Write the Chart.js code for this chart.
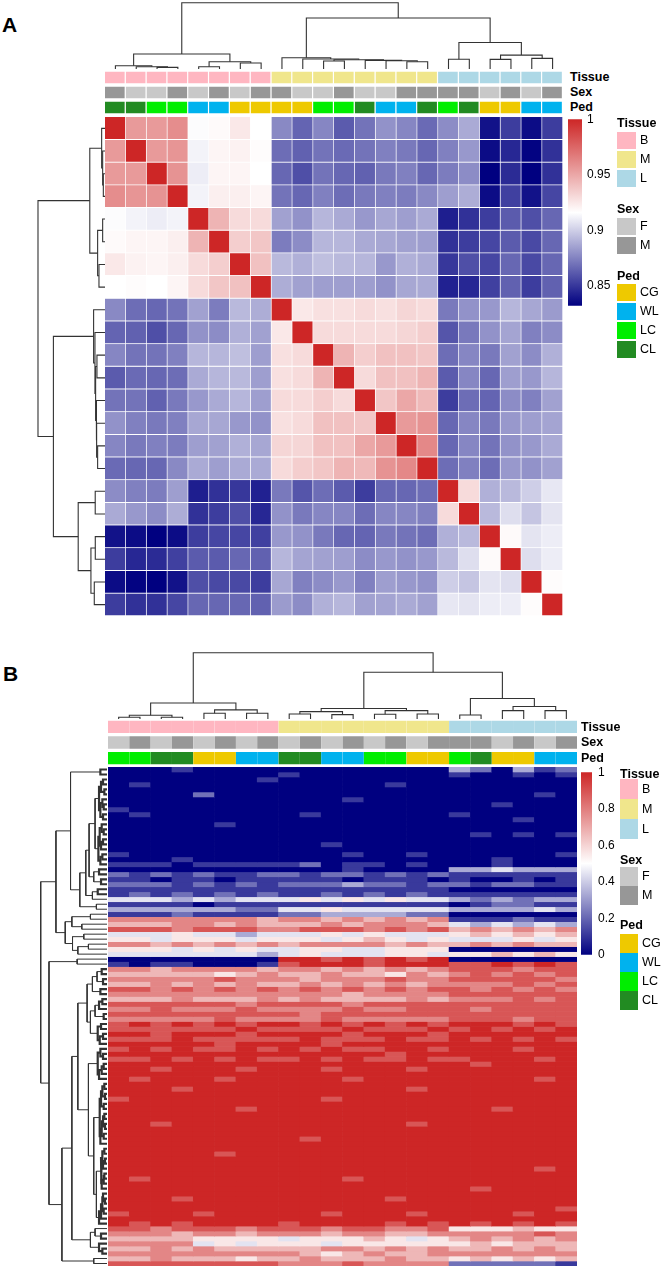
<!DOCTYPE html>
<html>
<head>
<meta charset="utf-8">
<script src="https://cdn.jsdelivr.net/npm/chart.js@4.4.0/dist/chart.umd.min.js"></script>
<style>
  body { margin: 0; background: #fff; }
  #page { position: relative; width: 664px; height: 1269px; overflow: hidden; background: #fff;
          font-family: Arial, "Liberation Sans", Helvetica, sans-serif; color: #000; }
  #page canvas, #page .lab, #page .sw { position: absolute; }
  .lab { white-space: nowrap; }
</style>
</head>
<body>
<div id="page"></div>
<script>
// ---------- data ----------
const tissueColors = { B: "#FFB6C1", M: "#F0E68C", L: "#ADD8E6" };
const sexColors = { F: "#C8C8C8", M: "#979797" };
const pedColors = { CG: "#EEC900", WL: "#00B2EE", LC: "#00EE00", CL: "#228B22" };

// panel A columns (same order for rows)
const tissueA = ["B","B","B","B","B","B","B","B","M","M","M","M","M","M","M","M","L","L","L","L","L","L"];
const sexA = ["M","F","F","M","F","M","F","M","M","F","F","M","F","F","M","M","M","M","F","M","F","M"];
const pedA = ["CL","CL","LC","LC","WL","WL","CG","CG","CG","CG","LC","LC","CL","WL","WL","CL","LC","CL","CG","CG","WL","WL"];

// correlation, in thousandths
const corA = [
  [1000,955,955,960,915,918,925,916, 877,865,876,862,870,880,876,867, 878,888,838,852,836,852],
  [955,1000,955,957,912,920,921,917, 868,864,870,867,870,874,872,866, 874,882,836,845,833,848],
  [955,955,1000,958,910,920,920,916, 866,858,870,866,864,872,874,866, 873,878,831,846,830,848],
  [960,957,958,1000,912,922,922,920, 870,866,874,868,872,874,873,877, 884,889,836,853,838,855],
  [915,912,910,912,1000,945,930,930, 885,880,892,888,882,887,884,888, 842,848,852,862,858,866],
  [918,920,920,922,945,1000,935,938, 873,878,892,892,888,887,885,884, 848,852,855,862,856,866],
  [925,921,920,922,930,935,1000,940, 893,890,895,893,892,882,890,888, 850,858,855,866,856,866],
  [916,917,916,920,930,938,940,1000, 889,885,884,884,884,880,887,888, 843,845,853,864,852,864],
  [877,868,866,870,885,873,893,889, 1000,925,928,928,930,928,932,930, 872,880,882,892,887,883],
  [865,864,858,866,880,878,890,885, 925,1000,930,930,930,930,932,935, 860,872,880,886,874,878],
  [876,870,870,874,892,892,895,884, 928,930,1000,945,935,940,940,938, 868,876,872,885,878,890],
  [862,867,866,868,888,892,893,884, 928,930,945,1000,930,940,940,945, 862,876,866,884,882,892],
  [870,870,864,872,882,888,892,884, 930,930,935,930,1000,938,950,943, 852,868,865,878,874,885],
  [880,874,872,874,887,887,882,880, 928,930,940,940,938,1000,955,958, 866,876,872,882,884,886],
  [876,872,874,873,884,885,890,887, 932,932,940,940,950,955,1000,962, 866,876,870,880,882,888],
  [867,866,866,877,888,884,888,888, 930,935,938,945,943,958,962,1000, 868,874,868,882,880,885],
  [878,874,873,884,842,848,850,843, 872,860,868,862,852,866,866,868, 1000,930,890,893,900,908],
  [888,882,878,889,848,852,858,845, 880,872,876,876,868,876,876,874, 930,1000,893,905,897,907],
  [838,836,831,836,852,855,855,853, 882,880,872,866,865,872,870,868, 890,893,1000,918,907,910],
  [852,845,846,853,862,862,866,864, 892,886,885,884,878,882,880,882, 893,905,918,1000,905,910],
  [836,833,830,838,858,856,856,852, 887,874,878,882,874,884,882,880, 900,897,907,905,1000,917],
  [852,848,848,855,866,866,866,864, 883,878,890,892,885,886,888,885, 908,907,910,910,917,1000]
];
const rangeA = [0.832, 1];
const ticksA = [0.85, 0.9, 0.95, 1];

// merge height between neighbouring leaves (dendrogram, panel A, rows = columns)
const linkA = [5, 3.5, 2.5, 22.7, 3.5, 11, 9, 100, 17, 15, 12, 14, 13, 12.5, 11, 77, 14.6, 40, 14.5, 21, 16];

// panel B columns
const tissueB = ["B","B","B","B","B","B","B","B","M","M","M","M","M","M","M","M","L","L","L","L","L","L"];
const sexB = ["F","M","F","M","F","M","F","M","F","M","F","M","F","M","F","M","M","M","F","M","F","M"];
const pedB = ["LC","LC","CL","CL","CG","CG","WL","WL","CL","CL","WL","WL","LC","LC","CG","CG","LC","CL","CG","CG","WL","WL"];
const colLinkB = [4, 7, 4, 25.3, 10, 15, 10, 100, 9, 12.4, 8, 17, 8.5, 14, 9, 71, 7.4, 32, 14, 20, 14];

// scaled expression per gene block, digit d = d/9 ; groups B | M | L
const exprB = [
  "00010000 00000000 320312",
  "00000000 10000000 100101",
  "00000001 00000000 000000",
  "01000000 00000100 000000",
  "00000000 00000000 000000",
  "00002000 00000000 000010",
  "00000000 00010000 000000",
  "00000000 00000000 001000",
  "10000000 00000000 000000",
  "01000000 01000000 100000",
  "00000000 00000000 000100",
  "00000100 00000000 000000",
  "00000000 00000000 000000",
  "00000000 00000000 010101",
  "00000000 00000000 000000",
  "00000000 00100000 000000",
  "00000000 00000000 000000",
  "10000000 00010010 000001",
  "00010000 00000000 001000",
  "11101111 12011010 001000",
  "00000000 00010000 334333",
  "21212112 21221212 111111",
  "11011011 11101110 100101",
  "22212121 22232212 212211",
  "11111111 11111111 000000",
  "12121212 11212121 111111",
  "44434344 45454544 323233",
  "11110111 11111111 012211",
  "33333322 44544444 333343",
  "11121111 22333322 000000",
  "77777776 77676767 111211",
  "66677676 66767776 434343",
  "88878887 78887878 676767",
  "44454434 44545444 565656",
  "55455545 55456545 444545",
  "77676767 67777676 676766",
  "55545454 45544555 000000",
  "44444443 45444554 556565",
  "00000000 99898989 000000",
  "10110001 89998999 889898",
  "77677776 77676767 888788",
  "66666567 66766576 787878",
  "77777877 76777877 888887",
  "66767676 67676767 777878",
  "88787878 78787878 878787",
  "77777777 77767777 888888",
  "66676667 67666676 777878",
  "88888878 88878888 888888",
  "77877787 77787788 878888",
  "88888888 87888888 888888",
  "77777877 77877777 888788",
  "89898989 98989898 999898",
  "88888898 88898889 898989",
  "99899989 99989998 999999",
  "88898888 89888988 989898",
  "99999899 99899999 999999",
  "89898898 98988998 999899",
  "99999999 99999899 999999",
  "88989898 89898898 899989",
  "99999999 99999999 989999",
  "99899989 99899989 999999",
  "99999999 99999999 999999",
  "98999899 99989999 999989",
  "99999999 99999999 999999",
  "99989999 99999989 999999",
  "99999999 99999999 999999",
  "89999999 99899999 999999",
  "99999999 99999999 999999",
  "99999989 99999999 998999",
  "99999999 99999999 999999",
  "99999999 99999999 999999",
  "99899999 99999989 999999",
  "99999999 99999999 999999",
  "99999999 99999999 999999",
  "99999999 98999999 999999",
  "99999999 99999999 999999",
  "99999999 99999999 999999",
  "99999899 99999999 999999",
  "99999999 99999999 999999",
  "99999999 99999999 999999",
  "99999999 99999999 999989",
  "99999999 99999999 999999",
  "98999999 99989999 999999",
  "99999999 99999999 999999",
  "99999999 99999999 989999",
  "99999999 99999999 999999",
  "99989999 99999899 999999",
  "99999999 99999999 999999",
  "99999999 99999999 999998",
  "89998999 99899989 999899",
  "99999999 99999999 999999",
  "98989999 89999898 989898",
  "88788878 88788778 555655",
  "77767767 77677667 777787",
  "66665555 45556545 676767",
  "77774545 55455555 565666",
  "66767666 66776767 667676",
  "77777777 76567667 777777",
  "66766656 67666766 565656",
  "88888888 77787777 222221"
];
const rowLinkB = [
  10, 55,
  6, 9, 4, 12, 7, 5, 10, 6,
  18,
  8, 5, 11, 6, 9, 13, 7, 10,
  27,
  12, 20, 9,
  32,
  14, 22,
  41,
  16,
  77,
  25, 53, 38,
  63,
  35, 52, 28, 44,
  100,
  45,
  87.5,
  8, 15, 6, 22, 10, 30, 7, 12, 18, 5, 25, 9, 14, 6, 11,
  44,
  10, 6, 14, 5, 8, 12, 28, 4, 7, 3, 9, 5, 11, 4, 6, 3, 8, 5, 10, 20, 4, 7, 3, 6, 9, 4, 5, 8, 16, 6, 3, 7, 5, 9, 12,
  53,
  18, 9, 25, 12, 7,
  68,
  20
];
const rangeB = [0, 1];
const ticksB = [0, 0.2, 0.4, 0.6, 0.8, 1];

// ---------- helpers ----------
const FONT = 'Arial, "Liberation Sans", Helvetica, sans-serif';
const NAVY = [0, 0, 128], WHITE = [255, 255, 255], FIRE = [205, 38, 38];
const page = document.getElementById("page");

const base = () => ({
  responsive: false,
  animation: false,
  events: [],
  layout: { padding: 0 },
  plugins: { legend: { display: false }, tooltip: { enabled: false } }
});

function rampColor(v, lo, hi) {
  let t = (v - lo) / (hi - lo);
  t = Math.max(0, Math.min(1, t));
  const a = t < 0.5 ? NAVY : WHITE, b = t < 0.5 ? WHITE : FIRE;
  const u = t < 0.5 ? t * 2 : (t - 0.5) * 2;
  const c = a.map((x, i) => Math.round(x + (b[i] - x) * u));
  return "rgb(" + c.join(",") + ")";
}

function addCanvas(left, top, w, h) {
  const c = document.createElement("canvas");
  c.width = w; c.height = h;
  c.style.left = left + "px"; c.style.top = top + "px";
  c.style.width = w + "px"; c.style.height = h + "px";
  page.appendChild(c);
  return c;
}

function label(str, x, cy, size, bold) {
  const d = document.createElement("div");
  d.className = "lab";
  d.textContent = str;
  d.style.left = x + "px";
  d.style.top = (cy - size * 0.5) + "px";
  d.style.fontSize = size + "px";
  d.style.lineHeight = size + "px";
  d.style.fontWeight = bold ? "bold" : "normal";
  page.appendChild(d);
}

function swatch(x, y, w, h, color) {
  const d = document.createElement("div");
  d.className = "sw";
  d.style.cssText = "left:" + x + "px;top:" + y + "px;width:" + w + "px;height:" + h + "px;background:" + color;
  page.appendChild(d);
}

// grid of cells: one stacked bar per column, one dataset per row
function drawCells(canvas, colors, border) {
  new Chart(canvas, {
    type: "bar",
    data: {
      labels: colors[0].map((_, i) => i),
      datasets: colors.map(row => ({
        data: row.map(() => 1),
        backgroundColor: row,
        borderColor: "#ffffff",
        borderWidth: border,
        borderSkipped: false,
        barPercentage: 1,
        categoryPercentage: 1
      }))
    },
    options: Object.assign(base(), {
      scales: {
        x: { display: false, stacked: true },
        y: { display: false, stacked: true, reverse: true, min: 0, max: colors.length }
      }
    })
  });
}

// neighbour merge heights -> list of U shaped links [leafPos, height]
function dendroLinks(heights) {
  const links = [];
  function build(lo, hi) {
    if (lo === hi) return { pos: lo, h: 0 };
    let k = lo;
    for (let i = lo; i < hi; i++) if (heights[i] > heights[k]) k = i;
    const a = build(lo, k), b = build(k + 1, hi), h = heights[k];
    links.push([[a.pos, a.h], [a.pos, h], [b.pos, h], [b.pos, b.h]]);
    return { pos: (a.pos + b.pos) / 2, h: h };
  }
  build(0, heights.length);
  return links;
}

// width: line width, or [thin, thick, cut] to thicken the low links
function drawDendro(canvas, heights, side, hMax, width) {
  const n = heights.length + 1;
  const top = side === "top";
  const widthOf = h => Array.isArray(width) ? (h < width[2] ? width[1] : width[0]) : width;
  const datasets = dendroLinks(heights).map(l => ({
    data: l.map(([p, h]) => top ? { x: p, y: h } : { x: h, y: p }),
    showLine: true,
    borderColor: "#333333",
    borderWidth: widthOf(l[1][1]),
    pointRadius: 0,
    tension: 0,
    fill: false
  }));
  const leafAxis = { display: false, type: "linear", min: -0.5, max: n - 0.5, reverse: !top };
  const hAxis = { display: false, type: "linear", min: 0, max: hMax, reverse: !top };
  new Chart(canvas, {
    type: "scatter",
    data: { datasets },
    options: Object.assign(base(), { scales: top ? { x: leafAxis, y: hAxis } : { x: hAxis, y: leafAxis } })
  });
}

function drawColorbar(canvas, range, ticks, axisW, pad, gap) {
  const [lo, hi] = range;
  new Chart(canvas, {
    type: "bar",
    data: {
      labels: [""],
      datasets: [{
        data: [[lo, hi]],
        borderWidth: 0,
        barPercentage: 1,
        categoryPercentage: 1,
        backgroundColor: ctx => {
          const ch = ctx.chart;
          if (!ch.chartArea) return "#fff";
          const y = ch.scales.y;
          const g = ch.ctx.createLinearGradient(0, y.getPixelForValue(lo), 0, y.getPixelForValue(hi));
          g.addColorStop(0, rampColor(lo, lo, hi));
          g.addColorStop(0.5, rampColor((lo + hi) / 2, lo, hi));
          g.addColorStop(1, rampColor(hi, lo, hi));
          return g;
        }
      }]
    },
    options: Object.assign(base(), {
      layout: { padding: { top: pad, bottom: pad, left: 0, right: 0 } },
      scales: {
        x: { display: false },
        y: {
          position: "right", min: lo, max: hi,
          grid: { display: false, drawTicks: false },
          border: { display: false },
          afterBuildTicks: s => { s.ticks = ticks.map(v => ({ value: v })); },
          afterFit: s => { s.width = axisW; },
          ticks: { padding: gap, color: "#000", font: { family: FONT, size: 12 }, callback: v => String(v) }
        }
      }
    })
  });
}

function legend(x, labelX, items, sw, boldSize, textSize) {
  items.forEach(g => {
    label(g.title, x, g.cy, boldSize, true);
    g.levels.forEach((lv, i) => {
      const y = g.y0 + i * g.step;
      swatch(x, y, sw, g.h, g.colors[lv]);
      label(lv, labelX, y + g.h / 2, textSize, false);
    });
  });
}

// ---------- panel A ----------
label("A", 2, 24.5, 21, true);

drawDendro(addCanvas(105, 0, 458, 69), linkA, "top", 104.1, 1.1);
drawDendro(addCanvas(0, 117, 105, 499), linkA, "left", 156.7, 1.1);

drawCells(addCanvas(105, 70, 458, 45), [
  tissueA.map(k => tissueColors[k]),
  sexA.map(k => sexColors[k]),
  pedA.map(k => pedColors[k])
], { top: 2, bottom: 2, left: 0, right: 1.5 });
label("Tissue", 570, 77.5, 12.5, true);
label("Sex", 570, 92.5, 12.5, true);
label("Ped", 570, 107.5, 12.5, true);

drawCells(addCanvas(105, 117, 458, 499),
  corA.map(row => row.map(v => rampColor(v / 1000, rangeA[0], rangeA[1]))),
  { top: 0, bottom: 1, left: 0, right: 1 });

drawColorbar(addCanvas(568, 107, 54, 211), rangeA, ticksA, 40, 10, 5);

legend(617, 640, [
  { title: "Tissue", cy: 123, y0: 132, step: 19, h: 17, levels: ["B", "M", "L"], colors: tissueColors },
  { title: "Sex", cy: 209, y0: 218, step: 19, h: 17, levels: ["F", "M"], colors: sexColors },
  { title: "Ped", cy: 276, y0: 284, step: 19, h: 17, levels: ["CG", "WL", "LC", "CL"], colors: pedColors }
], 19, 12.5, 12.5);

// ---------- panel B ----------
label("B", 3, 673.5, 21, true);

drawDendro(addCanvas(108, 640, 469, 80), colLinkB, "top", 118.9, 1.1);
drawDendro(addCanvas(0, 767, 107, 499), rowLinkB, "left", 161.4, [1, 2.2, 15]);

drawCells(addCanvas(108, 719, 469, 47), [
  tissueB.map(k => tissueColors[k]),
  sexB.map(k => sexColors[k]),
  pedB.map(k => pedColors[k])
], { top: 2, bottom: 2, left: 0, right: 0 });
label("Tissue", 581, 727, 12.5, true);
label("Sex", 581, 742.5, 12.5, true);
label("Ped", 581, 758, 12.5, true);

drawCells(addCanvas(108, 767, 469, 499),
  exprB.map(s => s.replace(/ /g, "").split("").map(d => rampColor(Number(d) / 9, rangeB[0], rangeB[1]))),
  0);

drawColorbar(addCanvas(581, 759, 51, 209), rangeB, ticksB, 40, 10, 6);

legend(620, 642, [
  { title: "Tissue", cy: 774, y0: 779, step: 20, h: 20, levels: ["B", "M", "L"], colors: tissueColors },
  { title: "Sex", cy: 860, y0: 867, step: 19, h: 19, levels: ["F", "M"], colors: sexColors },
  { title: "Ped", cy: 925, y0: 934, step: 19, h: 19, levels: ["CG", "WL", "LC", "CL"], colors: pedColors }
], 18, 12.5, 12.5);
</script>
</body>
</html>
